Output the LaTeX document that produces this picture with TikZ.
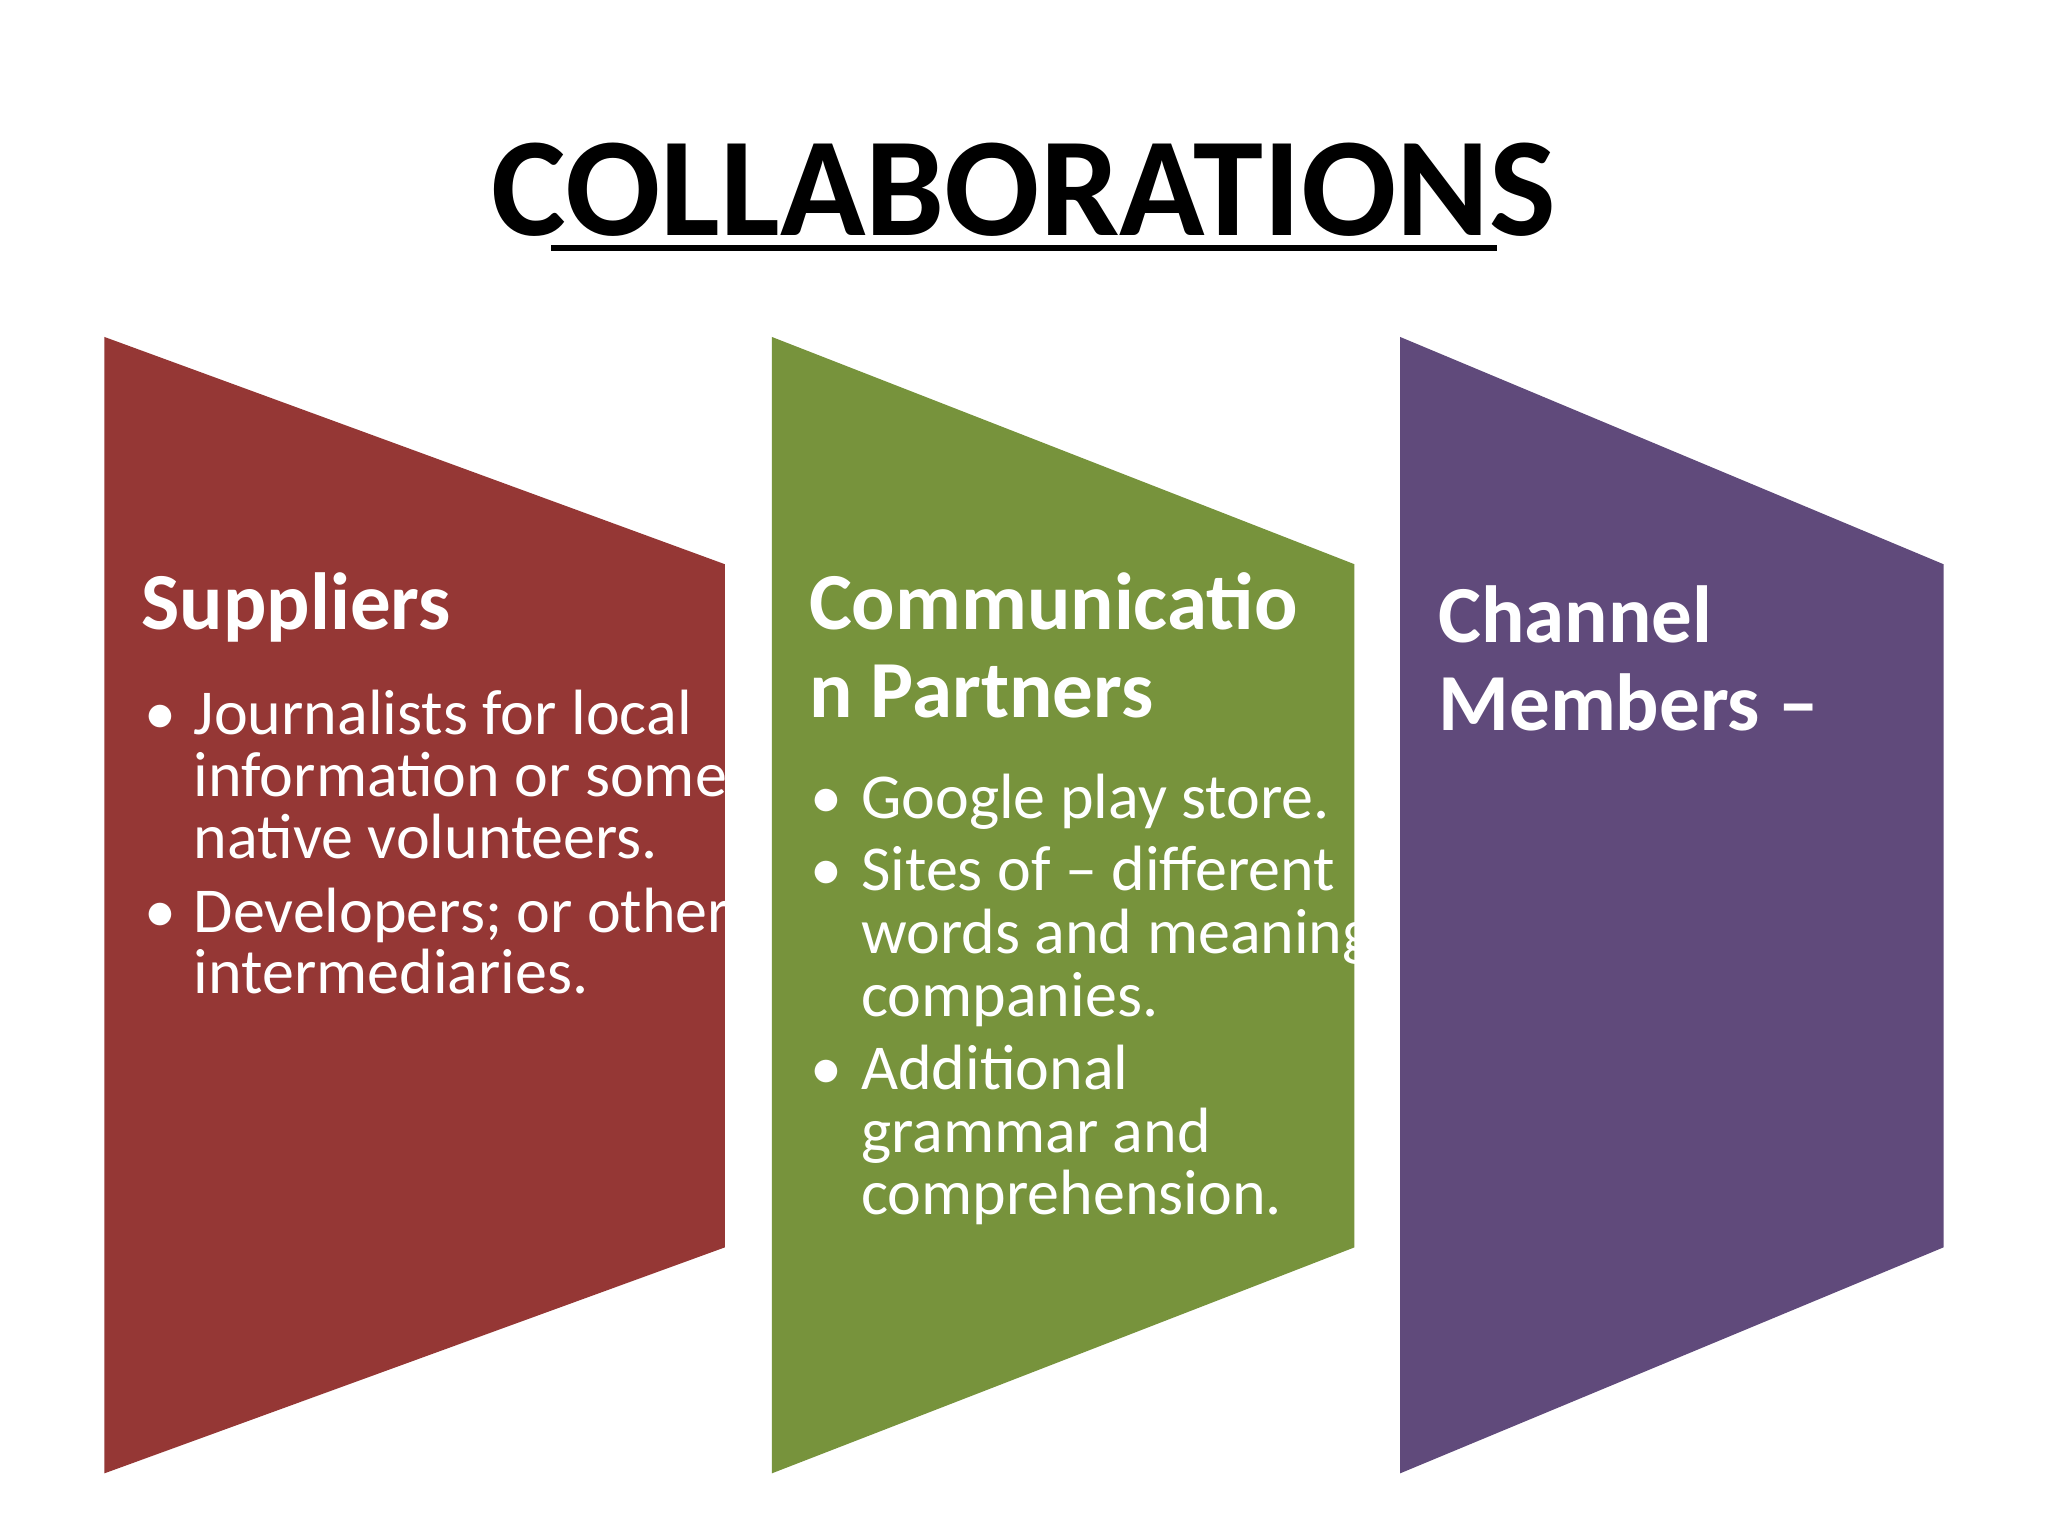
\documentclass[tikz,border=0pt]{standalone}
\usepackage{fontspec}
\setmainfont{Carlito}
\definecolor{cred}{HTML}{953735}
\definecolor{cgreen}{HTML}{77933C}
\definecolor{cpurple}{HTML}{604A7B}
\begin{document}
\begin{tikzpicture}[x=0.5pt,y=-0.5pt,
  head/.style={anchor=base west,inner sep=0,text=white,font=\fontsize{31}{36}\selectfont\bfseries},
  body/.style={anchor=base west,inner sep=0,text=white,font=\fontsize{24.5}{28}\selectfont},
  bul/.style={anchor=base west,inner sep=0,text=white,font=\fontsize{24.5}{28}\selectfont}]
\useasboundingbox (0,0) rectangle (1568,1176);
\fill[white] (0,0) rectangle (1568,1176);
\node[anchor=base,inner sep=0,font=\fontsize{54}{60}\selectfont\bfseries] (title) at (784,180) {COLLABORATIONS};
\draw[line width=2.5pt] (422,190) -- (1146,190);
\fill[cred] (80,258) -- (555,432) -- (555,955) -- (80,1128) -- cycle;
\fill[cgreen] (591,258) -- (1037,432) -- (1037,955) -- (591,1128) -- cycle;
\fill[cpurple] (1072,258) -- (1488,432) -- (1488,955) -- (1072,1128) -- cycle;
% red
\node[head] (h1) at (108,482) {Suppliers};
\node[bul] (b11) at (110,562) {•};
\node[body] (r1) at (148,562) {Journalists for local};
\node[body] (r2) at (148,610) {information or some};
\node[body] (r3) at (148,657) {native volunteers.};
\node[bul] (b12) at (110,714) {•};
\node[body] (r4) at (148,714) {Developers; or other};
\node[body] (r5) at (148,761) {intermediaries.};
% green
\node[head] (h2a) at (619,482) {Communicatio};
\node[head] (h2b) at (619,549) {n Partners};
\node[bul] (b21) at (620,627) {•};
\node[body] (g1) at (659,627) {Google play store.};
\node[bul] (b22) at (620,682) {•};
\node[body] (g2) at (659,682) {Sites of – different};
\node[body] (g3) at (659,730) {words and meaning};
\node[body] (g4) at (659,778) {companies.};
\node[bul] (b23) at (620,834) {•};
\node[body] (g5) at (659,834) {Additional};
\node[body] (g6) at (659,882) {grammar and};
\node[body] (g7) at (659,930) {comprehension.};
% purple
\node[head] (h3a) at (1101,492) {Channel};
\node[head] (h3b) at (1101,559) {Members –};
\end{tikzpicture}
\end{document}
